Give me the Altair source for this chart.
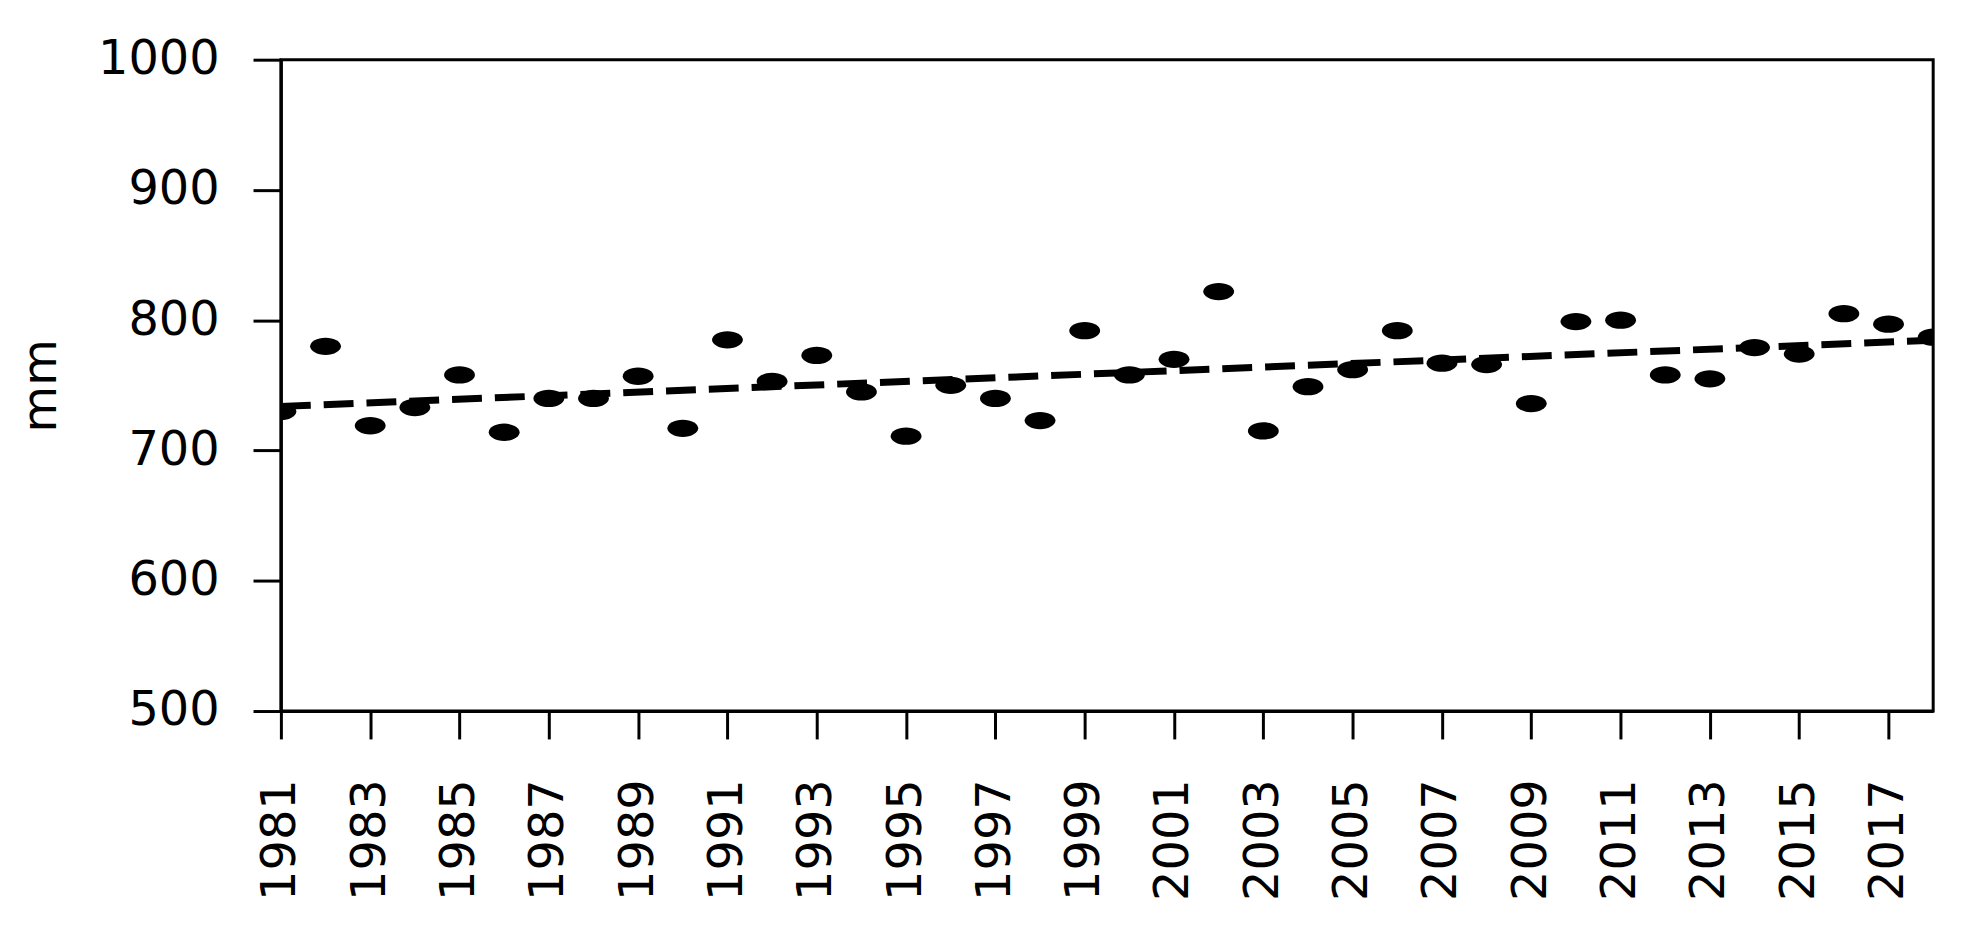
import altair as alt
import pandas as pd

years = list(range(1981, 2019))
values = [730, 780, 719, 733, 758, 714, 740, 740, 757, 717,
          785, 753, 773, 745, 711, 750, 740, 723, 792, 758,
          770, 822, 715, 749, 762, 792, 767, 766, 736, 799,
          800, 758, 755, 779, 774, 805, 797, 787]
x_ticks = list(range(1981, 2018, 2))
y_ticks = [500, 600, 700, 800, 900, 1000]

df = pd.DataFrame({"year": years, "value": values})

FONT = "DejaVu Sans"
W, H = 1659, 654

xenc = alt.X("year:Q", scale=alt.Scale(domain=[1981, 2018], nice=False, zero=False),
             axis=alt.Axis(values=x_ticks, format="d", labelAngle=-90, labelAlign="right",
                           labelBaseline="middle", labelPadding=40, title=None))
yenc = alt.Y("value:Q", scale=alt.Scale(domain=[500, 1000], nice=False, zero=False),
             axis=alt.Axis(values=y_ticks, format="d", labelPadding=34, title="mm",
                           titleAngle=-90, titleX=-240, titleY=H / 2,
                           titleAlign="center", titleBaseline="middle"))

ellipse = "M-1,0 A1,0.56 0 1,1 1,0 A1,0.56 0 1,1 -1,0 Z"

points = alt.Chart(df).mark_point(shape=ellipse, size=960, filled=True, color="black",
                                  opacity=1, clip=True).encode(x=xenc, y=yenc)

trend = alt.Chart(df).transform_regression(
    "year", "value", extent=[1981, 2018]
).mark_line(color="black", strokeWidth=7, strokeDash=[30, 13], clip=True).encode(
    x=alt.X("year:Q"), y=alt.Y("value:Q"))

chart = alt.layer(points, trend).properties(
    width=W, height=H, autosize="none",
    padding={"left": 274, "top": 50, "right": 44, "bottom": 229}
).configure_view(stroke="black", strokeWidth=3).configure_axis(
    grid=False, domainColor="black", domainWidth=3, tickColor="black", tickWidth=3,
    tickSize=28, labelFont=FONT, labelFontSize=48, labelColor="black",
    titleFont=FONT, titleFontSize=48, titleColor="black", titleFontWeight="normal",
    labelFlush=False, labelOverlap=False
)

chart.save("out.html", embed_options={"renderer": "svg", "actions": False})
